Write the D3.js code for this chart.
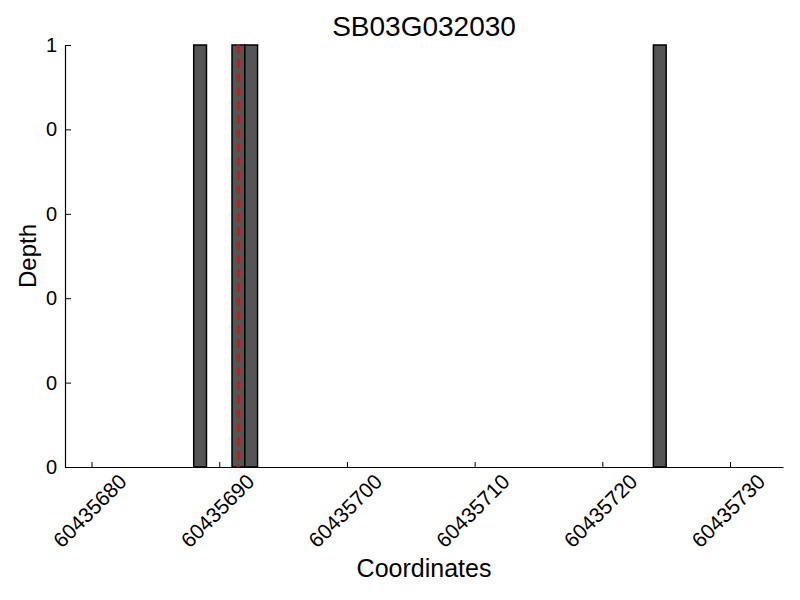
<!DOCTYPE html>
<html>
<head>
<meta charset="utf-8">
<script src="https://cdn.jsdelivr.net/npm/d3@7"></script>
<style>
  body { margin: 0; background: #fff; }
  text { font-family: "Liberation Sans", Arial, sans-serif; }
</style>
</head>
<body>
<div id="chart"></div>
<script>
// data
var title = "SB03G032030";
var binStart = [60435688, 60435691, 60435692, 60435724];
var depth = [1, 1, 1, 1];
var markerPos = 60435691.5;
var xTicks = [60435680, 60435690, 60435700, 60435710, 60435720, 60435730];
var yTicks = [0, 0.2, 0.4, 0.6, 0.8, 1];
var yTickLabels = ["0", "0", "0", "0", "0", "1"];

// set the dimensions and margins of the graph
var margin = {top: 45, right: 17, bottom: 133, left: 65},
    width = 800 - margin.left - margin.right,
    height = 600 - margin.top - margin.bottom;

var svg = d3.select("#chart")
  .append("svg")
    .attr("width", 800)
    .attr("height", 600)
  .append("g")
    .attr("transform", "translate(" + margin.left + "," + margin.top + ")");

var x = d3.scaleLinear()
  .domain([60435677.92, 60435734.15])
  .range([0, width]);

var y = d3.scaleLinear()
  .domain([0, 1])
  .range([height, 0]);

// bars
svg.selectAll("rect.bar")
  .data(binStart)
  .enter()
  .append("rect")
    .attr("class", "bar")
    .attr("x", function(d) { return x(d); })
    .attr("width", function(d) { return x(d + 1) - x(d); })
    .attr("y", function(d, i) { return y(depth[i]); })
    .attr("height", function(d, i) { return y(0) - y(depth[i]); })
    .style("fill", "#555555")
    .style("stroke", "#000")
    .style("stroke-width", 1.5);

// marker line
svg.append("line")
  .attr("x1", x(markerPos))
  .attr("x2", x(markerPos))
  .attr("y1", y(1))
  .attr("y2", y(0))
  .style("stroke", "#ff0000")
  .style("stroke-width", 2.5)
  .style("stroke-dasharray", "9,5");

// X axis, ticks pointing inward
var xAxis = svg.append("g")
  .attr("transform", "translate(0," + height + ")")
  .call(d3.axisBottom(x).tickValues(xTicks).tickSizeInner(-5).tickSizeOuter(0).tickFormat(d3.format("d")));
xAxis.select(".domain").attr("stroke-width", 1.2);
xAxis.selectAll("text")
  .style("font-size", "21px")
  .attr("text-anchor", "end")
  .attr("dy", null)
  .attr("y", 0)
  .attr("transform", "translate(36,16) rotate(-45)");

// Y axis
var yAxis = svg.append("g")
  .call(d3.axisLeft(y).tickValues(yTicks).tickSizeInner(-6).tickSizeOuter(0)
    .tickFormat(function(d, i) { return yTickLabels[i]; }));
yAxis.select(".domain").attr("stroke-width", 1.2);
yAxis.selectAll("text")
  .style("font-size", "20px")
  .attr("x", -8);

// title and labels
svg.append("text")
  .attr("x", width / 2)
  .attr("y", -9)
  .attr("text-anchor", "middle")
  .style("font-size", "28px")
  .text(title);

svg.append("text")
  .attr("x", width / 2)
  .attr("y", height + 110)
  .attr("text-anchor", "middle")
  .style("font-size", "25px")
  .text("Coordinates");

svg.append("text")
  .attr("transform", "rotate(-90)")
  .attr("x", -(211))
  .attr("y", -29)
  .attr("text-anchor", "middle")
  .style("font-size", "24px")
  .text("Depth");
</script>
</body>
</html>
